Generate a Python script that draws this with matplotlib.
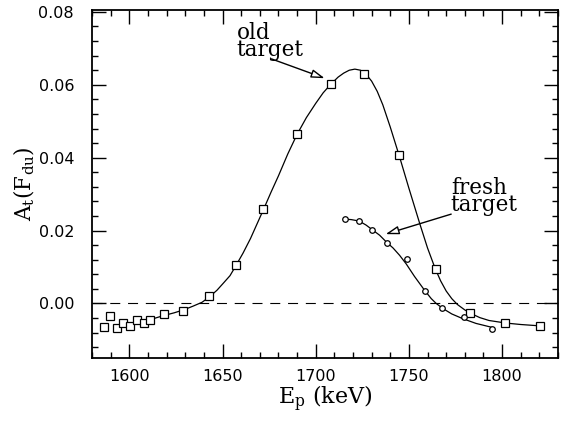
import numpy as np
import matplotlib
matplotlib.use("Agg")
from matplotlib import pyplot as plt
from matplotlib.ticker import MultipleLocator

#======================================================
# data

# old target (squares)
ep_old = [1586.4, 1589.6, 1593.4, 1596.8, 1600.5, 1604.0, 1607.7, 1611.0,
          1618.4, 1629.0, 1643.0, 1657.0, 1671.8, 1689.8, 1708.0, 1726.0,
          1744.7, 1764.3, 1783.0, 1801.8, 1820.6]
at_old = [-0.0066, -0.0035, -0.0068, -0.0055, -0.0062, -0.0047, -0.0055, -0.0046,
          -0.0028, -0.0020, 0.0020, 0.0104, 0.0260, 0.0466, 0.0602, 0.0629,
          0.0407, 0.0095, -0.0026, -0.0054, -0.0062]

# fresh target (circles)
ep_fresh = [1715.7, 1723.0, 1730.2, 1738.0, 1749.0, 1758.4, 1767.7, 1779.3, 1794.7]
at_fresh = [0.0231, 0.0227, 0.0202, 0.0166, 0.0122, 0.0034, -0.0012, -0.0037, -0.0069]

# fitted curves
ep_fit_old = [1607, 1611, 1618, 1624, 1629, 1634, 1639, 1643, 1647, 1650, 1654,
              1657, 1661, 1665, 1672, 1676, 1680, 1685, 1690, 1695, 1700, 1704,
              1708, 1712, 1715, 1718, 1721, 1724, 1727, 1730, 1733, 1736, 1740,
              1745, 1750, 1756, 1760, 1764, 1767, 1770, 1773, 1776, 1780, 1783,
              1788, 1793, 1802, 1810, 1821]
at_fit_old = [-0.0049, -0.0045, -0.0034, -0.0026, -0.0018, -0.0008, 0.0003, 0.0018,
              0.0036, 0.0053, 0.0076, 0.0102, 0.0138, 0.0178, 0.0258, 0.0305,
              0.0350, 0.0410, 0.0464, 0.0510, 0.0549, 0.0578, 0.0601, 0.0621,
              0.0632, 0.0640, 0.0643, 0.0640, 0.0629, 0.0610, 0.0582, 0.0545,
              0.0484, 0.0402, 0.0316, 0.0216, 0.0152, 0.0097, 0.0062, 0.0034,
              0.0013, -0.0003, -0.0018, -0.0027, -0.0039, -0.0047, -0.0054,
              -0.0058, -0.0062]

ep_fit_fresh = [1715.7, 1719, 1723.3, 1727, 1730.4, 1734.3, 1738, 1741.5, 1745,
                1748.6, 1753, 1758.4, 1762, 1764.6, 1768.2, 1773, 1778.9, 1786, 1794.7]
at_fit_fresh = [0.0231, 0.0230, 0.0226, 0.0215, 0.0202, 0.0187, 0.0168, 0.0152,
                0.0132, 0.0108, 0.0074, 0.0036, 0.0013, 0.0000, -0.0014, -0.0029,
                -0.0042, -0.0055, -0.0066]

#======================================================
# plot

plt.rcParams['font.family'] = 'DejaVu Sans'
plt.rcParams['mathtext.fontset'] = 'dejavuserif'
fig = plt.figure(figsize=(5.72, 4.21), dpi=100)
ax = fig.add_axes([0.161, 0.1496, 0.8145, 0.8264])

ax.axhline(0, color='black', lw=0.8, dashes=(9, 7))
ax.plot(ep_fit_old, at_fit_old, color='black', lw=0.9)
ax.plot(ep_fit_fresh, at_fit_fresh, color='black', lw=0.9)
ax.plot(ep_old, at_old, ls='none', marker='s', ms=5.5, mfc='white', mec='black', mew=0.9)
ax.plot(ep_fresh, at_fresh, ls='none', marker='o', ms=4, mfc='white', mec='black', mew=0.9)

arrow = dict(arrowstyle='-|>,head_length=0.8,head_width=0.25', fc='white', ec='black', lw=1.0,
             shrinkA=0, shrinkB=0)
ax.annotate('', xy=(1704.8, 0.0618), xytext=(1676.3, 0.0671), arrowprops=arrow)
ax.annotate('', xy=(1737.5, 0.0190), xytext=(1772.7, 0.0245), arrowprops=arrow)
ax.text(1657.5, 0.0664, 'old\ntarget', family='DejaVu Serif', fontsize=15.5,
        linespacing=0.72, ha='left', va='bottom')
ax.text(1772.5, 0.0239, 'fresh\ntarget', family='DejaVu Serif', fontsize=15.5,
        linespacing=0.72, ha='left', va='bottom')

ax.set_xlim(1580, 1830)
ax.set_ylim(-0.015, 0.0805)
ax.xaxis.set_major_locator(MultipleLocator(50))
ax.xaxis.set_minor_locator(MultipleLocator(10))
ax.yaxis.set_major_locator(MultipleLocator(0.02))
ax.yaxis.set_minor_locator(MultipleLocator(0.004))
ax.yaxis.set_major_formatter(matplotlib.ticker.FormatStrFormatter('%.2f'))
ax.tick_params(which='both', direction='in', top=True, right=True, width=1.0,
               labelsize=11.5)
ax.tick_params(which='major', length=10)
ax.tick_params(which='minor', length=4.5)
ax.tick_params(axis='x', pad=8)
ax.tick_params(axis='y', pad=13)
for s in ax.spines.values():
    s.set_linewidth(1.3)

ax.set_xlabel(r'E$_\mathrm{p}$ (keV)', family='DejaVu Serif', fontsize=16, labelpad=0)
ax.set_ylabel(r'A$_\mathrm{t}$(F$_\mathrm{du}$)', family='DejaVu Serif', fontsize=15.5, labelpad=1)

plt.savefig('out.png', dpi=100)
